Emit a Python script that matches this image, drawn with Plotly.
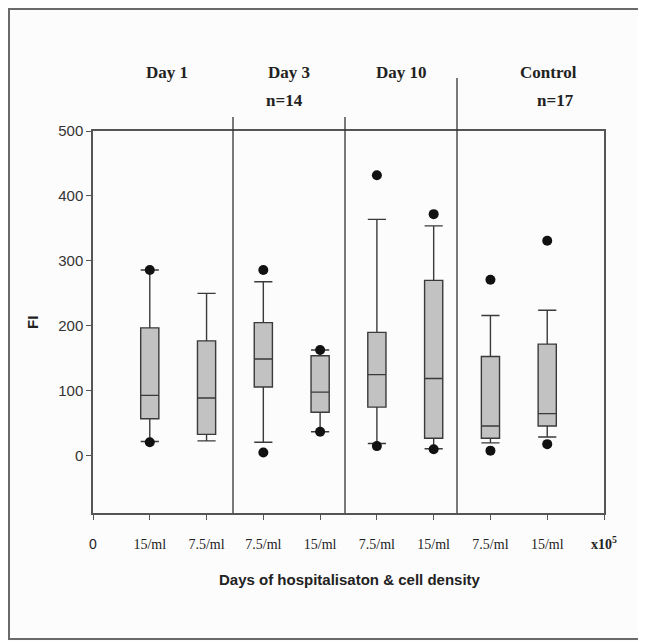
import plotly.graph_objects as go

# ---- data ----
groups = ["Day 1", "Day 3", "Day 10", "Control"]
group_notes = ["", "n=14", "", "n=17"]
densities = ["15/ml", "7.5/ml", "7.5/ml", "15/ml", "7.5/ml", "15/ml", "7.5/ml", "15/ml"]
lower_whisker = [22, 23, 21, 37, 19, 11, 20, 29]
q1 = [57, 33, 106, 67, 75, 27, 27, 46]
median = [93, 89, 149, 98, 125, 119, 46, 65]
q3 = [197, 177, 205, 154, 190, 270, 153, 172]
upper_whisker = [286, 250, 268, 163, 364, 354, 216, 224]
outliers = [[21, 286], [], [5, 286], [37, 163], [15, 432], [10, 372], [8, 271], [18, 331]]
y_ticks = [0, 100, 200, 300, 400, 500]

# ---- layout geometry (page pixels; the page body adds an 8px margin) ----
PAGE_W, PAGE_H = 646, 641
OFF = 8
W, H = PAGE_W - OFF, PAGE_H - OFF
L, R, T, B = 93, 604, 131, 513          # plot area in page pixels
XMAX = 9
YMIN, YMAX = -88, 500


def px_x(px):
    return (px - L) / (R - L)


def px_y(py):
    return (B - py) / (B - T)


positions = list(range(1, len(densities) + 1))

fig = go.Figure()
fig.add_trace(go.Box(
    x=positions, q1=q1, median=median, q3=q3,
    lowerfence=lower_whisker, upperfence=upper_whisker,
    width=0.32, whiskerwidth=1.0,
    fillcolor="#c2c2c2", line=dict(color="#3a3a3a", width=1.4),
    boxpoints=False, showlegend=False, hoverinfo="skip",
))

ox, oy = [], []
for p, vals in zip(positions, outliers):
    for v in vals:
        ox.append(p)
        oy.append(v)
fig.add_trace(go.Scatter(
    x=ox, y=oy, mode="markers",
    marker=dict(color="#111111", size=10),
    showlegend=False, hoverinfo="skip",
))

ticktext = ['<span style="font-family:Arial">0</span>'] + densities + ["<b>x10<sup>5</sup></b>"]

fig.update_layout(
    width=W, height=H,
    margin=dict(l=L - OFF, r=PAGE_W - R, t=T - OFF, b=PAGE_H - B),
    paper_bgcolor="#fcfcfc", plot_bgcolor="#fcfcfc",
    font=dict(family="Liberation Serif", color="#222222"),
    xaxis=dict(
        range=[0, XMAX], tickmode="array", tickvals=list(range(0, XMAX + 1)),
        ticktext=ticktext, ticks="outside", ticklen=5, tickcolor="#555555",
        showline=True, linecolor="#555555", linewidth=1.5, mirror=True,
        showgrid=False, zeroline=False,
        tickfont=dict(family="Liberation Serif", size=14, color="#222222"),
        ticklabelstandoff=12,
    ),
    yaxis=dict(
        range=[YMIN, YMAX], tickmode="array", tickvals=y_ticks,
        ticks="outside", ticklen=5, tickcolor="#555555",
        showline=True, linecolor="#555555", linewidth=1.5, mirror=True,
        showgrid=False, zeroline=False,
        tickfont=dict(family="Liberation Sans", size=15, color="#333333"),
    ),
)

# group dividers extending above the plot
divider_px = [233, 345, 457]
divider_top_px = [117, 117, 78]
shapes = []
for dx, dt in zip(divider_px, divider_top_px):
    shapes.append(dict(type="line", xref="paper", yref="paper",
                       x0=px_x(dx), x1=px_x(dx), y0=0, y1=px_y(dt),
                       line=dict(color="#333333", width=1.3)))
# outer border of the figure
shapes.append(dict(type="rect", xref="paper", yref="paper",
                   x0=px_x(OFF + 1), x1=px_x(641), y0=px_y(OFF + 1), y1=px_y(639),
                   line=dict(color="#6a6a6a", width=2), fillcolor="rgba(0,0,0,0)"))
fig.update_layout(shapes=shapes)

# group headers
header_px = [167, 289, 401, 548]
note_px = [None, 284, None, 555]
ann = []
for g, hx in zip(groups, header_px):
    ann.append(dict(text=f"<b>{g}</b>", xref="paper", yref="paper",
                    x=px_x(hx), y=px_y(73), showarrow=False,
                    xanchor="center", yanchor="middle",
                    font=dict(family="Liberation Serif", size=17, color="#222222")))
for n, nx in zip(group_notes, note_px):
    if n:
        ann.append(dict(text=f"<b>{n}</b>", xref="paper", yref="paper",
                        x=px_x(nx), y=px_y(100), showarrow=False,
                        xanchor="center", yanchor="middle",
                        font=dict(family="Liberation Serif", size=17, color="#222222")))
ann.append(dict(text="<b>Days of hospitalisaton &amp; cell density</b>",
                xref="paper", yref="paper", x=px_x(350), y=px_y(579),
                showarrow=False, xanchor="center", yanchor="middle",
                font=dict(family="Liberation Sans", size=15, color="#222222")))
ann.append(dict(text="<b>FI</b>", xref="paper", yref="paper",
                x=px_x(32), y=px_y(323), showarrow=False, textangle=-90,
                xanchor="center", yanchor="middle",
                font=dict(family="Liberation Sans", size=15, color="#222222")))
fig.update_layout(annotations=ann)

fig.write_html("out.html")
